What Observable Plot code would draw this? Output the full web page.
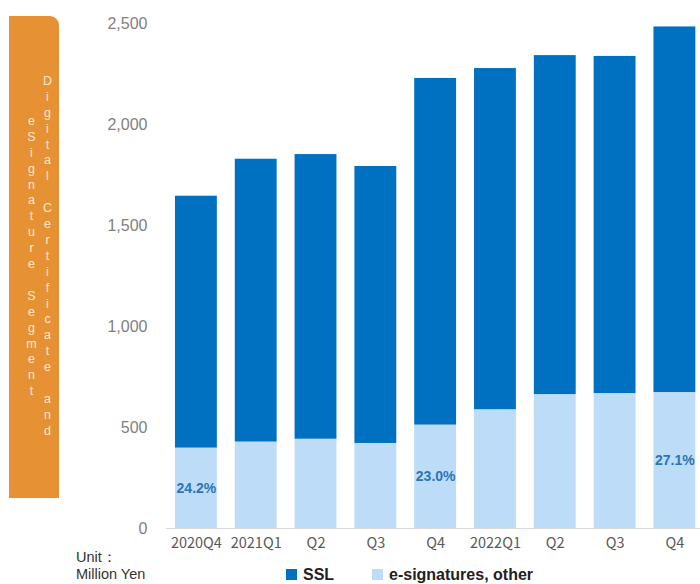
<!DOCTYPE html>
<html>
<head>
<meta charset="utf-8">
<script src="https://cdn.jsdelivr.net/npm/d3@7"></script>
<script src="https://cdn.jsdelivr.net/npm/@observablehq/plot@0.6"></script>
<style>
  html, body { margin: 0; padding: 0; background: #fff; }
  #wrap { position: relative; width: 700px; height: 584px; overflow: hidden; }
  #chart { position: absolute; left: 0; top: 0; }
  #side {
    position: absolute; left: 9px; top: 16px; width: 50px; height: 482px;
    background: #E69234; border-top-right-radius: 9px;
    display: flex; align-items: center; justify-content: center;
  }
  #side span {
    writing-mode: vertical-rl; text-orientation: upright;
    font-family: "Liberation Sans", Arial, sans-serif; font-size: 12.5px;
    color: #F7E9CF; letter-spacing: 1.9px; line-height: 16px; text-align: center;
    margin-left: 11px;
  }
  .unit {
    position: absolute; left: 76px; height: 17px;
    font-family: "Liberation Sans", Arial, sans-serif; font-size: 14.5px; line-height: 17px; color: #333;
    white-space: nowrap;
  }
  .leg { position: absolute; top: 566px; height: 17px; font-family: "Liberation Sans", Arial, sans-serif;
    font-weight: bold; font-size: 16px; line-height: 17px; color: #222; display: flex; align-items: center;
    white-space: nowrap; }
  .sw { width: 11px; height: 11px; margin-right: 6px; display: inline-block; }
</style>
</head>
<body>
<div id="wrap">
  <div id="chart"></div>
  <div id="side"><span>Digital Certificate and<br>eSignature Segment</span></div>
  <div class="unit" style="top:549px">Unit：</div>
  <div class="unit" style="top:566px">Million Yen</div>
  <div id="legend"></div>
</div>
<script>
const quarterKeys = ["2020Q4","2021Q1","2021Q2","2021Q3","2021Q4","2022Q1","2022Q2","2022Q3","2022Q4"];
const quarterLabels = ["2020Q4","2021Q1","Q2","Q3","Q4","2022Q1","Q2","Q3","Q4"];
const sslValues = [1247, 1400, 1409, 1371, 1716, 1689, 1678, 1669, 1810];
const esigValues = [398, 428, 442, 421, 512, 588, 663, 668, 673];
const pctLabels = ["24.2%", "", "", "", "23.0%", "", "", "", "27.1%"];
const seriesNames = ["SSL", "e-signatures, other"];
const seriesColors = ["#0070C0", "#BDDCF8"];
const yTicks = [0, 500, 1000, 1500, 2000, 2500];

const rows = [];
quarterKeys.forEach((q, i) => {
  rows.push({q, series: seriesNames[1], value: esigValues[i]});
  rows.push({q, series: seriesNames[0], value: sslValues[i]});
});
const pctRows = quarterKeys.map((q, i) => ({q, v: esigValues[i] / 2, t: pctLabels[i]})).filter(d => d.t);

const chart = Plot.plot({
  width: 700, height: 584,
  marginLeft: 166, marginRight: 0, marginTop: 23, marginBottom: 56,
  style: {fontFamily: "Liberation Sans, Arial, sans-serif", background: "transparent"},
  x: {domain: quarterKeys, range: [166, 704.3], paddingInner: 0.3, paddingOuter: 0.15, round: false, label: null},
  y: {domain: [0, 2500], range: [528, 23], label: null},
  color: {domain: seriesNames, range: seriesColors},
  marks: [
    Plot.barY(rows, {x: "q", y: "value", fill: "series", order: null}),
    Plot.ruleY([0], {stroke: "#d9d9d9", strokeWidth: 1}),
    Plot.axisY({ticks: yTicks, tickFormat: d3.format(","), tickSize: 0, tickPadding: 19,
      fontSize: 16, fill: "#808080", label: null}),
    Plot.axisX({tickSize: 0, tickPadding: 9, tickFormat: (d) => quarterLabels[quarterKeys.indexOf(d)],
      fontSize: 14.5, fill: "#595959", fontFamily: "Noto Sans CJK JP, sans-serif", label: null}),
    Plot.text(pctRows, {x: "q", y: "v", text: "t", fill: "#2E75B6", fontWeight: "bold", fontSize: 14})
  ]
});
document.getElementById("chart").appendChild(chart);

const legend = document.getElementById("legend");
const legPos = [286, 372];
seriesNames.forEach((name, i) => {
  const d = document.createElement("div");
  d.className = "leg";
  d.style.left = legPos[i] + "px";
  d.innerHTML = `<span class="sw" style="background:${seriesColors[i]}"></span>${name}`;
  legend.appendChild(d);
});
</script>
</body>
</html>
